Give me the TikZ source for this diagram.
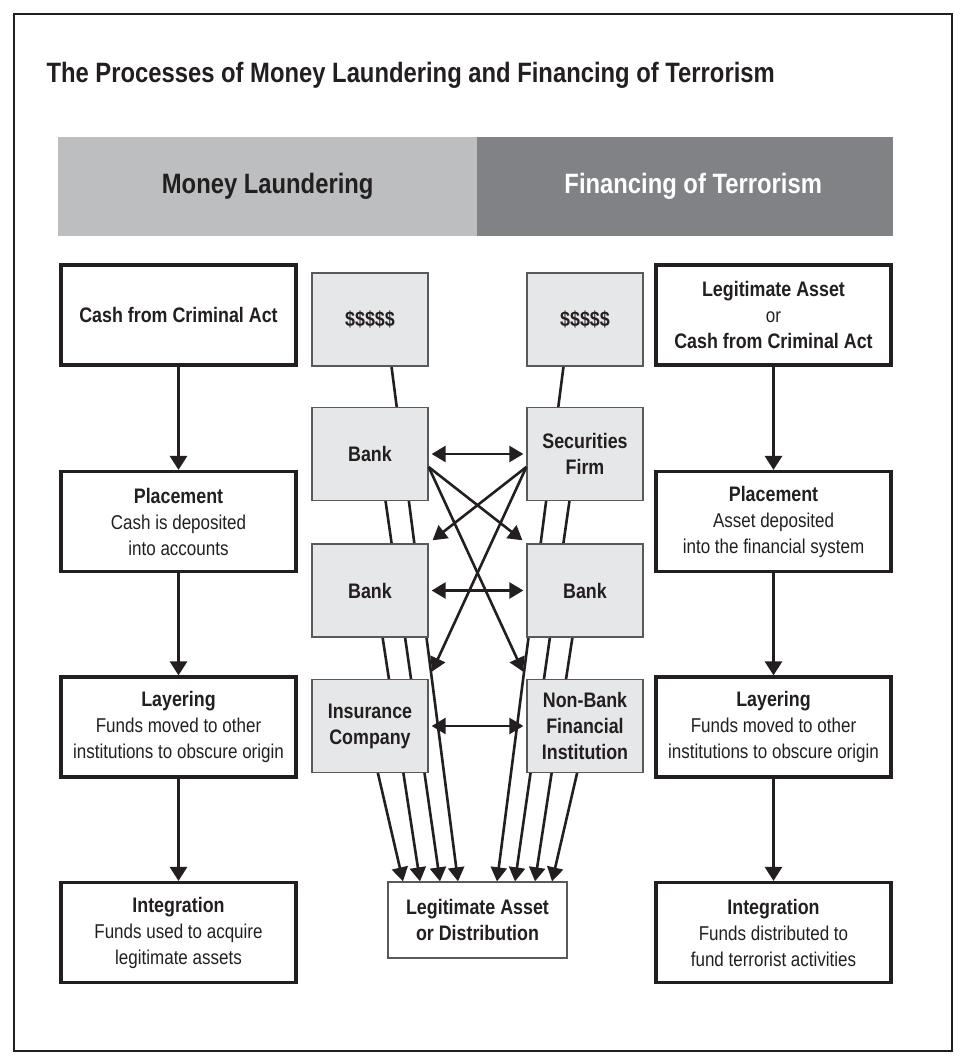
\documentclass[tikz,border=0pt]{standalone}
\usepackage{fontspec}
\setmainfont{Liberation Sans}[FakeStretch=0.85]
\usetikzlibrary{arrows.meta,calc}
\pgfdeclarelayer{bg}
\pgfsetlayers{bg,main}
\definecolor{ink}{HTML}{231F20}
\definecolor{hdrlight}{HTML}{BCBEC0}
\definecolor{hdrdark}{HTML}{808285}
\definecolor{boxgray}{HTML}{E6E7E8}
\definecolor{edgegray}{HTML}{58595B}
\newcommand{\stagehead}[1]{{\bfseries\fontsize{21}{26}\selectfont #1}}
\begin{document}
\begin{tikzpicture}[x=1pt,y=-1pt,text=ink,
  stagebox/.style={draw=ink, line width=3.2pt, fill=white, minimum width=235pt,
    minimum height=100pt, align=center, inner sep=0pt,
    font=\fontsize{20}{26}\selectfont},
  instbox/.style={draw=edgegray, line width=1.3pt, fill=boxgray, minimum width=116pt,
    minimum height=93pt, align=center, inner sep=0pt,
    font=\bfseries\fontsize{21}{26}\selectfont},
  hdrbar/.style={minimum height=99pt, inner sep=0pt, anchor=north west,
    font=\bfseries\fontsize{28}{32}\selectfont},
  flow/.style={draw=ink, line width=2.8pt, -{Triangle[length=14pt,width=17pt]}},
  fan/.style={draw=ink, line width=2.6pt, -{Triangle[length=14pt,width=16pt]}},
  link/.style={draw=ink, line width=2.6pt,
    {Triangle[length=14pt,width=16pt]}-{Triangle[length=14pt,width=16pt]},
    shorten >=3pt, shorten <=3pt}
]
\useasboundingbox (0,0) rectangle (964,1062);
\begin{pgfonlayer}{bg}
\fill[white] (0,0) rectangle (964,1062);
\end{pgfonlayer}
\node[draw=ink, line width=1.8pt, minimum width=938pt, minimum height=1037pt,
  inner sep=0pt, anchor=north west] (frame) at (13,13) {};

\node[anchor=base west, font=\bfseries\fontsize{28}{32}\selectfont] (title) at (43,83)
  {The Processes of Money Laundering and Financing of Terrorism};

\node[hdrbar, fill=hdrlight, minimum width=419pt] (hdrL) at (58,137) {Money Laundering};
\node[hdrbar, fill=hdrdark, minimum width=416pt, text=white] (hdrR) at (477,137)
  {\hspace*{16pt}Financing of Terrorism};

% left stages
\node[stagebox] (l1) at (178.5,315) {\stagehead{Cash from Criminal Act}};
\node[stagebox] (l2) at (178.5,521.5) {\stagehead{Placement}\\Cash is deposited\\into accounts};
\node[stagebox] (l3) at (178.5,727) {\stagehead{Layering}\\Funds moved to other\\institutions to obscure origin};
\node[stagebox] (l4) at (178.5,932.5) {\stagehead{Integration}\\Funds used to acquire\\legitimate assets};

% right stages
\node[stagebox] (r1) at (773.5,315) {\stagehead{Legitimate Asset}\\or\\\stagehead{Cash from Criminal Act}};
\node[stagebox] (r2) at (773.5,521.5) {\stagehead{Placement}\\Asset deposited\\into the financial system};
\node[stagebox] (r3) at (773.5,727) {\stagehead{Layering}\\Funds moved to other\\institutions to obscure origin};
\node[stagebox] (r4) at (773.5,932.5) {\stagehead{Integration}\\Funds distributed to\\fund terrorist activities};

% institutions
\node[instbox] (lm) at (370,319.5) {\$\$\$\$\$};
\node[instbox] (b1) at (370,454) {Bank};
\node[instbox] (b2) at (370,590.5) {Bank};
\node[instbox] (ins) at (370,726) {Insurance\\Company};
\node[instbox] (rm) at (585,319.5) {\$\$\$\$\$};
\node[instbox] (sf) at (585,454) {Securities\\Firm};
\node[instbox] (rb2) at (585,590.5) {Bank};
\node[instbox] (nb) at (585,726) {Non-Bank\\Financial\\Institution};

\node[draw=edgegray, line width=1.3pt, fill=white, minimum width=179pt, minimum height=76pt,
  inner sep=0pt, align=center, font=\bfseries\fontsize{21}{26}\selectfont] (fin) at (477.5,920)
  {Legitimate Asset\\or Distribution};

% fan lines behind the institution boxes
\begin{pgfonlayer}{bg}
\draw[fan] ($(lm.south)+(21,-4)$) -- ($(fin.north)+(-19.5,0)$);
\draw[fan] ($(b1.south)+(15,-4)$) -- ($(fin.north)+(-37.5,0)$);
\draw[fan] ($(b2.south)+(12,-4)$) -- ($(fin.north)+(-57.5,0)$);
\draw[fan] ($(ins.south)+(7,-4)$) -- ($(fin.north)+(-74.5,0)$);
\draw[fan] ($(rm.south)+(-21,-4)$) -- ($(fin.north)+(19.5,0)$);
\draw[fan] ($(sf.south)+(-15,-4)$) -- ($(fin.north)+(37.5,0)$);
\draw[fan] ($(rb2.south)+(-12,-4)$) -- ($(fin.north)+(57.5,0)$);
\draw[fan] ($(nb.south)+(-7,-4)$) -- ($(fin.north)+(74.5,0)$);
\end{pgfonlayer}

% stage flows
\draw[flow] (l1) -- (l2);
\draw[flow] (l2) -- (l3);
\draw[flow] (l3) -- (l4);
\draw[flow] (r1) -- (r2);
\draw[flow] (r2) -- (r3);
\draw[flow] (r3) -- (r4);

% exchanges between institutions
\draw[link] (b1) -- (sf);
\draw[link] (b2) -- (rb2);
\draw[link] (ins) -- (nb);

\draw[fan, shorten >=5pt] ($(b1.east)+(0,13)$) -- (rb2.north west);
\draw[fan, shorten >=8pt] ($(b1.east)+(0,13)$) -- (nb.north west);
\draw[fan, shorten >=5pt] ($(sf.west)+(0,13)$) -- (b2.north east);
\draw[fan, shorten >=8pt] ($(sf.west)+(0,13)$) -- (ins.north east);
\end{tikzpicture}
\end{document}
